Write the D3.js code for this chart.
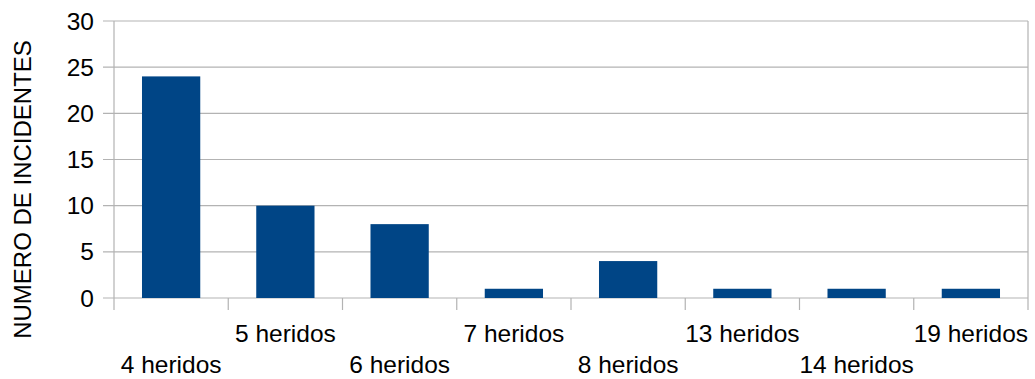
<!DOCTYPE html>
<html>
<head>
<meta charset="utf-8">
<script src="https://cdn.jsdelivr.net/npm/d3@7"></script>
<style>
  html, body { margin: 0; padding: 0; background: #ffffff; }
  svg { display: block; }
  text { font-family: "Liberation Sans", Arial, sans-serif; fill: #000; }
</style>
</head>
<body>
<svg id="chart" width="1035" height="379"></svg>
<script>
// Incidents grouped by number of injured people
const categories = ["4 heridos", "5 heridos", "6 heridos", "7 heridos", "8 heridos", "13 heridos", "14 heridos", "19 heridos"];
const incidentes = [24, 10, 8, 1, 4, 1, 1, 1];
const yTicks = [0, 5, 10, 15, 20, 25, 30];
const yTitle = "NUMERO DE INCIDENTES";

const svg = d3.select("#chart");
const plotLeft = 114, plotRight = 1028, plotTop = 21, plotBottom = 298;
const gridColor = "#b3b3b3";

const x = d3.scaleBand().domain(categories).range([plotLeft, plotRight]).paddingInner(0.49).paddingOuter(0.245);
const xEdges = d3.scaleLinear().domain([0, categories.length]).range([plotLeft, plotRight]);
const y = d3.scaleLinear().domain([0, 30]).range([plotBottom, plotTop]);

// horizontal gridlines with short outer ticks
svg.append("g").selectAll("line").data(yTicks).join("line")
  .attr("x1", plotLeft - 11).attr("x2", plotRight)
  .attr("y1", d => y(d)).attr("y2", d => y(d))
  .attr("stroke", gridColor).attr("stroke-width", 1.2);

// left axis and right border
svg.append("line").attr("x1", plotLeft).attr("x2", plotLeft).attr("y1", plotTop).attr("y2", plotBottom + 12)
  .attr("stroke", gridColor).attr("stroke-width", 1.2);
svg.append("line").attr("x1", plotRight).attr("x2", plotRight).attr("y1", plotTop).attr("y2", plotBottom + 12)
  .attr("stroke", gridColor).attr("stroke-width", 1.2);

// category boundary ticks below the axis
svg.append("g").selectAll("line").data(d3.range(1, categories.length)).join("line")
  .attr("x1", d => xEdges(d)).attr("x2", d => xEdges(d))
  .attr("y1", plotBottom).attr("y2", plotBottom + 12)
  .attr("stroke", gridColor).attr("stroke-width", 1.2);

// y tick labels
svg.append("g").selectAll("text").data(yTicks).join("text")
  .attr("x", 94).attr("y", d => y(d) + 8.5)
  .attr("text-anchor", "end").attr("font-size", 24.5)
  .text(d => d);

// bars
svg.append("g").selectAll("rect").data(incidentes).join("rect")
  .attr("x", (d, i) => x(categories[i]))
  .attr("width", x.bandwidth())
  .attr("y", d => y(d))
  .attr("height", d => y(0) - y(d))
  .attr("fill", "#004586");

// category labels, staggered over two rows
svg.append("g").selectAll("text").data(categories).join("text")
  .attr("x", d => x(d) + x.bandwidth() / 2)
  .attr("y", (d, i) => i % 2 === 0 ? 373 : 342)
  .attr("text-anchor", "middle").attr("font-size", 24.5)
  .text(d => d);

// y-axis title
svg.append("text")
  .attr("transform", "translate(31," + ((plotTop + plotBottom) / 2 + 30) + ") rotate(-90)")
  .attr("text-anchor", "middle").attr("font-size", 24)
  .text(yTitle);
</script>
</body>
</html>
